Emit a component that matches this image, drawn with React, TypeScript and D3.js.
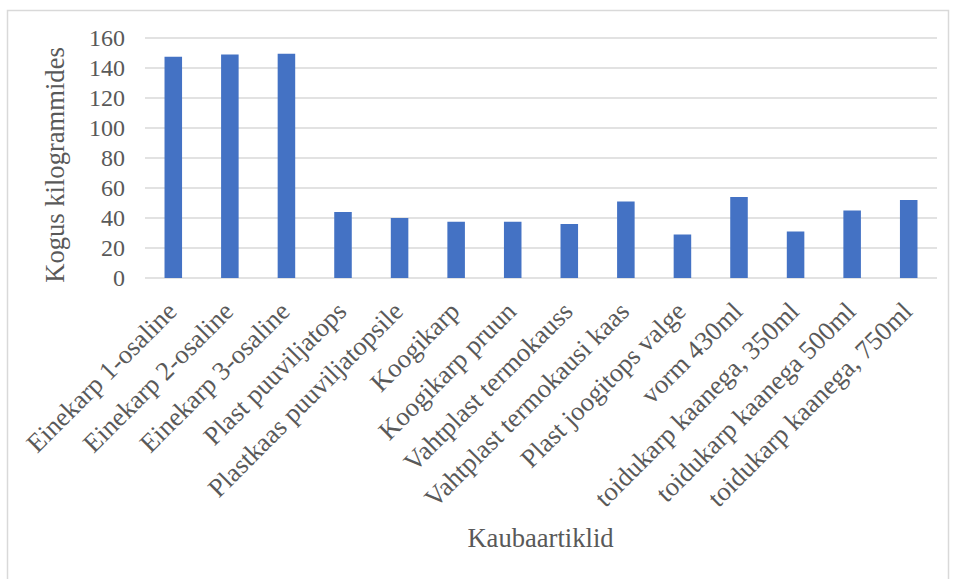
import React from "react";
import * as d3 from "d3";

const categories: string[] = [
  "Einekarp 1-osaline",
  "Einekarp 2-osaline",
  "Einekarp 3-osaline",
  "Plast puuviljatops",
  "Plastkaas puuviljatopsile",
  "Koogikarp",
  "Koogikarp pruun",
  "Vahtplast termokauss",
  "Vahtplast termokausi kaas",
  "Plast joogitops valge",
  "vorm 430ml",
  "toidukarp kaanega, 350ml",
  "toidukarp kaanega 500ml",
  "toidukarp kaanega, 750ml",
];
const values: number[] = [147.5, 149, 149.5, 44, 40, 37.5, 37.5, 36, 51, 29, 54, 31, 45, 52];
const yTicks: number[] = [0, 20, 40, 60, 80, 100, 120, 140, 160];
const yTitle = "Kogus kilogrammides";
const xTitle = "Kaubaartiklid";

const W = 956;
const H = 579;
const plot = { left: 145, right: 937, top: 38, bottom: 278 };
const FONT = "'Liberation Serif', 'Times New Roman', serif";
const TEXT = "#595959";

export default function App() {
  const x = d3
    .scaleBand<string>()
    .domain(categories)
    .range([plot.left, plot.right])
    .paddingInner(0.69)
    .paddingOuter(0.345);
  const y = d3.scaleLinear().domain([0, 160]).range([plot.bottom, plot.top]);

  return (
    <svg
      width={W}
      height={H}
      style={{ position: "absolute", left: 0, top: 0, background: "#fff" }}
      fontFamily={FONT}
    >
      <rect x={7.5} y={10.5} width={941} height={H} fill="#fff" stroke="#d9d9d9" strokeWidth={1.5} />
      {yTicks.map((t) => (
        <g key={t}>
          <line x1={plot.left} x2={plot.right} y1={y(t)} y2={y(t)} stroke="#d9d9d9" strokeWidth={1.5} />
          <text x={125} y={y(t)} dy="0.35em" textAnchor="end" fontSize={24} fill={TEXT}>
            {t}
          </text>
        </g>
      ))}
      {categories.map((c, i) => (
        <rect
          key={c}
          x={x(c)}
          y={y(values[i])}
          width={x.bandwidth()}
          height={y(0) - y(values[i])}
          fill="#4472c4"
        />
      ))}
      {categories.map((c) => {
        const cx = (x(c) as number) + x.bandwidth() / 2 + 5;
        const cy = 313;
        return (
          <text
            key={c}
            transform={`translate(${cx},${cy}) rotate(-45)`}
            textAnchor="end"
            fontSize={26.5}
            fill={TEXT}
          >
            {c}
          </text>
        );
      })}
      <text
        transform={`translate(64,165) rotate(-90)`}
        textAnchor="middle"
        fontSize={26.6}
        fill={TEXT}
      >
        {yTitle}
      </text>
      <text x={540.5} y={546.5} textAnchor="middle" fontSize={26.6} fill={TEXT}>
        {xTitle}
      </text>
    </svg>
  );
}
